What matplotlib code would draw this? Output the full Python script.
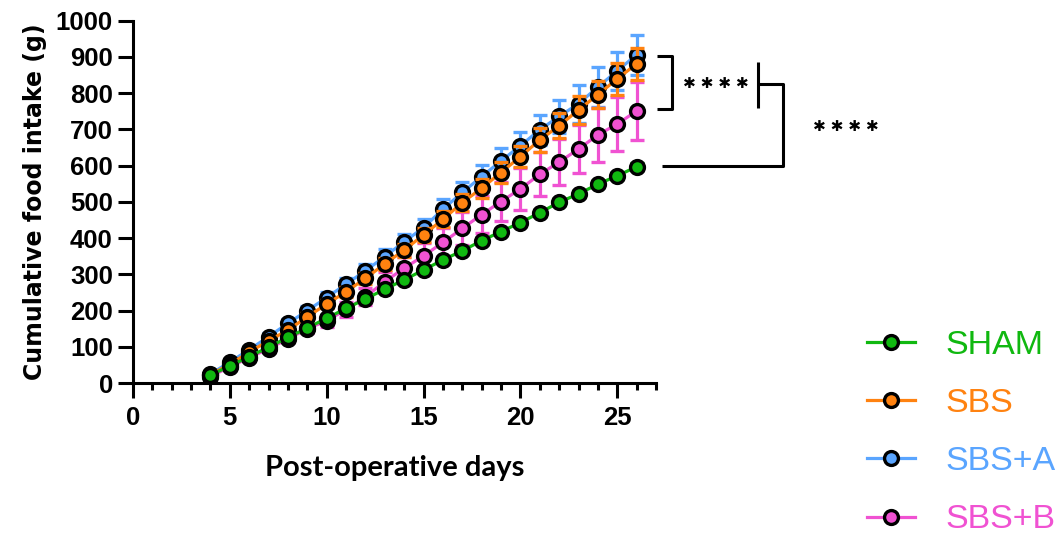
import matplotlib.pyplot as plt
from matplotlib.lines import Line2D

days = list(range(4, 27))

sham = [22, 47, 73, 99, 126, 152, 179, 206, 232, 259, 285, 312, 340, 365, 393,
        418, 443, 470, 499, 522, 549, 572, 597]
sham_err = [2, 2, 3, 3, 3, 4, 4, 4, 5, 5, 5, 6, 6, 6, 7, 7, 7, 8, 8, 8, 9, 9, 9]

sbs = [23, 52, 85, 117, 146, 183, 218, 252, 289, 329, 367, 409, 452, 498, 538,
       581, 625, 671, 710, 754, 796, 840, 881]
sbs_err = [3, 5, 6, 8, 9, 11, 12, 14, 15, 17, 18, 20, 22, 24, 26, 28, 30, 32,
           35, 38, 38, 44, 44]

sbs_a = [25, 58, 92, 128, 165, 200, 236, 273, 310, 349, 390, 429, 480, 526, 570,
         613, 655, 699, 736, 771, 817, 862, 906]
sbs_a_err = [4, 6, 8, 10, 12, 13, 15, 17, 19, 20, 22, 24, 27, 29, 31, 35, 37,
             41, 46, 52, 55, 53, 55]

sbs_b = [18, 45, 70, 95, 122, 150, 172, 203, 238, 280, 317, 351, 388, 427, 465,
         501, 536, 576, 610, 646, 685, 715, 751]
sbs_b_err = [3, 4, 6, 8, 10, 13, 16, 20, 24, 27, 30, 35, 40, 45, 50, 55, 58,
             61, 63, 66, 75, 74, 80]

labels = ["SHAM", "SBS", "SBS+A", "SBS+B"]
colors = ["#10B810", "#FF8210", "#5AA5FF", "#F052D2"]

fig = plt.figure(figsize=(10.59, 5.41), dpi=100)
ax = fig.add_axes([0.1256, 0.292, 0.4939, 0.6697])

series = [(sbs_a, sbs_a_err, colors[2], 2),
          (sbs_b, sbs_b_err, colors[3], 3),
          (sbs, sbs_err, colors[1], 4),
          (sham, sham_err, colors[0], 5)]
for vals, err, col, z in series:
    ax.errorbar(days, vals, yerr=err, color=col, lw=2.3, elinewidth=2.3,
                capsize=5, capthick=2.3, marker="o", markersize=10,
                markerfacecolor=col, markeredgecolor="black",
                markeredgewidth=2.4, zorder=z)

ax.set_xlim(0, 27)
ax.set_ylim(0, 1000)
ax.set_xticks(range(0, 26, 5))
ax.set_xticks(range(0, 28), minor=True)
ax.set_yticks(range(0, 1001, 100))
for s in ["top", "right"]:
    ax.spines[s].set_visible(False)
for s in ["left", "bottom"]:
    ax.spines[s].set_linewidth(2.2)
ax.tick_params(axis="both", which="major", width=2.2, length=10.5,
               labelsize=18.5, pad=4)
ax.tick_params(axis="x", which="minor", width=2.2, length=5)
ax.tick_params(axis="x", which="major", pad=6)
for t in ax.get_xticklabels() + ax.get_yticklabels():
    t.set_fontfamily("Liberation Sans")
    t.set_fontweight("bold")

ax.set_ylabel("Cumulative food intake (g)", fontsize=17, fontweight="bold",
              family="DejaVu Sans", labelpad=6)
ax.set_xlabel("Post-operative days", fontsize=21, fontweight="bold",
              family="Lato", labelpad=18)

# significance brackets
kw = dict(color="black", lw=2.2, clip_on=False, solid_capstyle="butt")
ax.plot([27.05, 27.83, 27.83, 27.05], [902, 902, 756, 756], **kw)
ax.text(30.1, 828, "✱ ✱ ✱ ✱", ha="center", va="center", fontsize=11,
        family="DejaVu Sans")
ax.plot([32.27, 32.27], [886, 759], **kw)
ax.plot([32.27, 33.56, 33.56, 27.3], [825, 825, 599, 599], **kw)
ax.text(36.8, 707, "✱ ✱ ✱ ✱", ha="center", va="center", fontsize=11,
        family="DejaVu Sans")

handles = [Line2D([], [], color=c, lw=2.3, marker="o", markersize=10,
                  markerfacecolor=c, markeredgecolor="black",
                  markeredgewidth=2.4) for c in colors]
leg = fig.legend(handles, labels, loc="upper left",
                 bbox_to_anchor=(0.79, 0.447), frameon=False,
                 prop={"family": "Liberation Sans", "size": 24.5},
                 handlelength=1.4, labelspacing=0.8, handletextpad=0.9)
for txt, c in zip(leg.get_texts(), colors):
    txt.set_color(c)

fig.savefig("out.png", dpi=100)
